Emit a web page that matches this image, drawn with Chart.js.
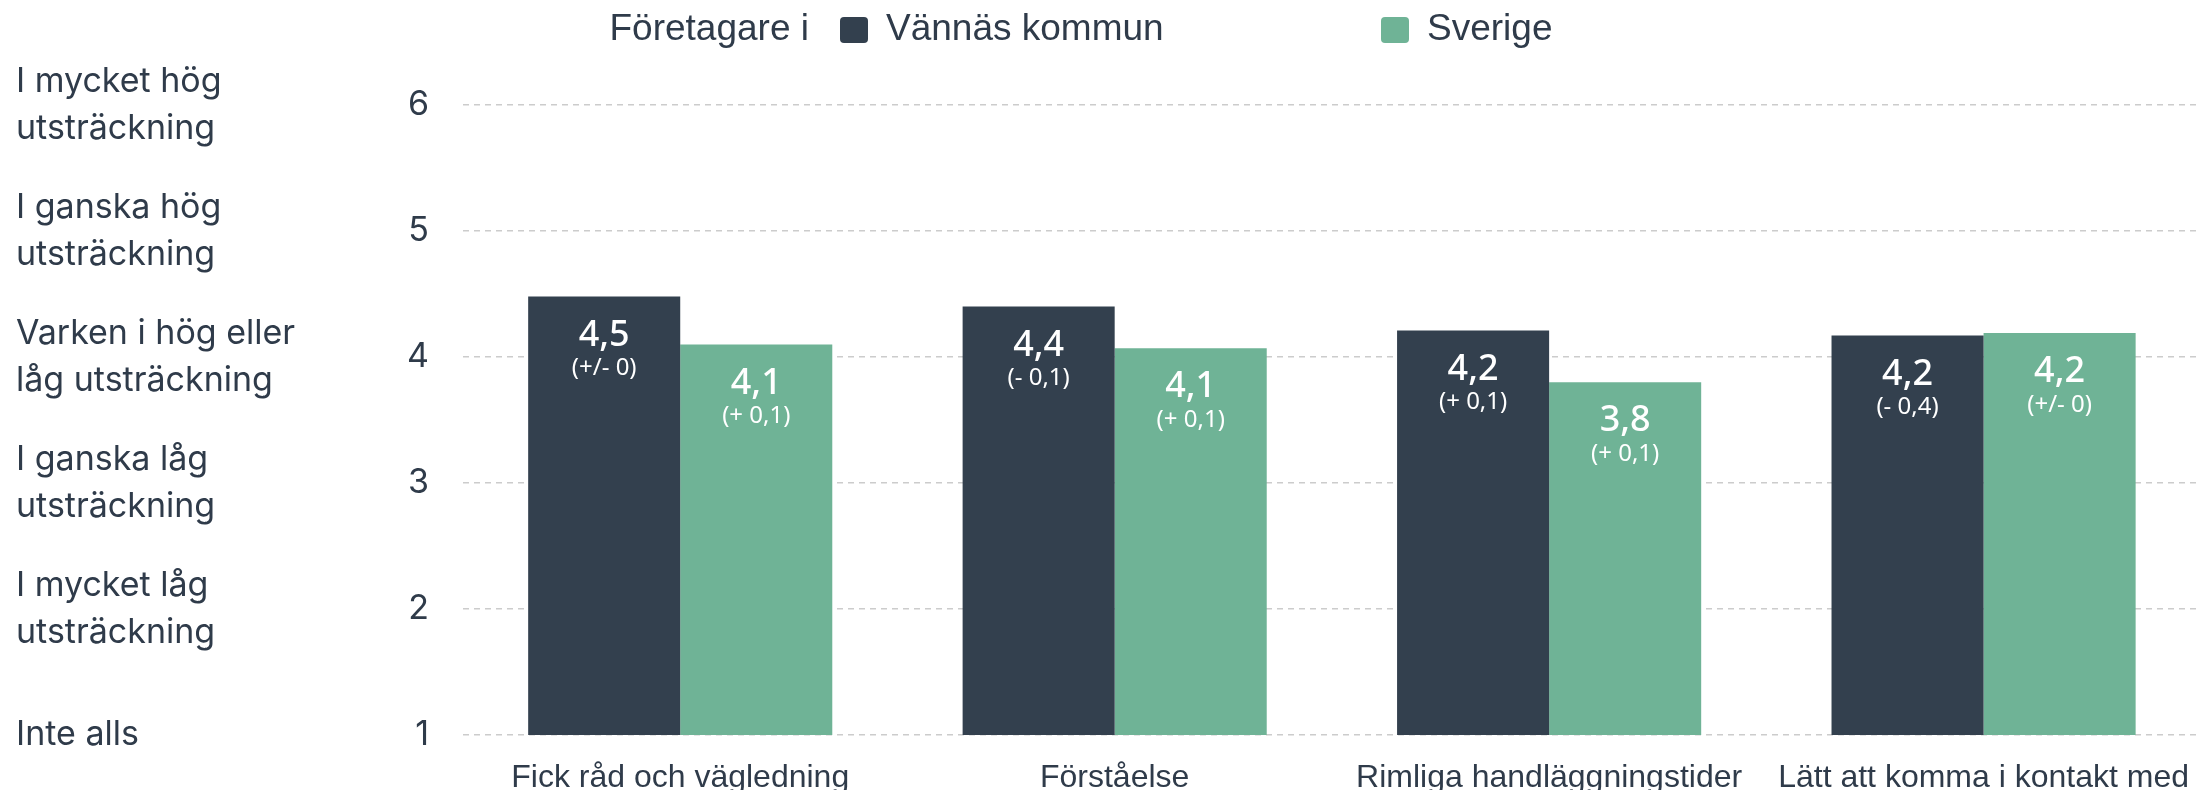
<!DOCTYPE html>
<html>
<head>
<meta charset="utf-8">
<script src="https://cdn.jsdelivr.net/npm/chart.js@4"></script>
<style>
html, body { margin: 0; padding: 0; overflow: hidden; background: #fff; }
</style>
</head>
<body>
<canvas id="chart" width="2205" height="790" style="display:block;width:2205px;height:790px"></canvas>
<script>
// data
const categories = ['Fick råd och vägledning', 'Förståelse', 'Rimliga handläggningstider', 'Lätt att komma i kontakt med'];
const seriesNames = ['Vännäs kommun', 'Sverige'];
const kommunValues = [4.48, 4.40, 4.21, 4.17];
const sverigeValues = [4.10, 4.07, 3.80, 4.19];
const kommunLabels = ['4,5', '4,4', '4,2', '4,2'];
const sverigeLabels = ['4,1', '4,1', '3,8', '4,2'];
const kommunChanges = ['(+/- 0)', '(- 0,1)', '(+ 0,1)', '(- 0,4)'];
const sverigeChanges = ['(+ 0,1)', '(+ 0,1)', '(+ 0,1)', '(+/- 0)'];
const legendTitle = 'Företagare i';
const scaleLabels = [
    ['Inte alls'],
    ['I mycket låg', 'utsträckning'],
    ['I ganska låg', 'utsträckning'],
    ['Varken i hög eller', 'låg utsträckning'],
    ['I ganska hög', 'utsträckning'],
    ['I mycket hög', 'utsträckning']
];

const textColor = '#2f3b4a';
const darkColor = '#33404e';
const greenColor = '#6fb396';

// white value + change labels inside the top of each bar
const barLabels = {
    id: 'barLabels',
    afterDatasetsDraw(chart) {
        const ctx = chart.ctx;
        const values = [kommunLabels, sverigeLabels];
        const changes = [kommunChanges, sverigeChanges];
        ctx.save();
        ctx.fillStyle = '#ffffff';
        ctx.textAlign = 'center';
        ctx.textBaseline = 'middle';
        chart.data.datasets.forEach(function (ds, i) {
            chart.getDatasetMeta(i).data.forEach(function (bar, j) {
                ctx.font = '500 36px "Noto Sans"';
                ctx.fillText(values[i][j], bar.x, bar.y + 39);
                ctx.font = '24px "Noto Sans"';
                ctx.fillText(changes[i][j], bar.x, bar.y + 72);
            });
        });
        ctx.restore();
    }
};

// legend row: "Företagare i" + two boxes
const topLegend = {
    id: 'topLegend',
    afterDraw(chart) {
        const ctx = chart.ctx;
        ctx.save();
        ctx.font = '37px "Liberation Sans"';
        ctx.textBaseline = 'middle';
        ctx.fillStyle = textColor;
        ctx.textAlign = 'right';
        ctx.fillText(legendTitle, 809, 30);
        ctx.textAlign = 'left';
        const items = [
            { x: 840, color: darkColor, text: seriesNames[0] },
            { x: 1381, color: greenColor, text: seriesNames[1] }
        ];
        items.forEach(function (it) {
            ctx.fillStyle = it.color;
            ctx.beginPath();
            ctx.roundRect(it.x, 17, 28, 26, 4);
            ctx.fill();
            ctx.fillStyle = textColor;
            ctx.fillText(it.text, it.x + 46, 30);
        });
        ctx.restore();
    }
};

new Chart(document.getElementById('chart'), {
    type: 'bar',
    data: {
        labels: categories,
        datasets: [
            { label: seriesNames[0], data: kommunValues, backgroundColor: darkColor },
            { label: seriesNames[1], data: sverigeValues, backgroundColor: greenColor }
        ]
    },
    options: {
        responsive: false,
        animation: false,
        categoryPercentage: 0.7,
        barPercentage: 1.0,
        layout: { padding: { top: 105, left: 16, right: 0, bottom: 0 } },
        plugins: {
            legend: { display: false },
            tooltip: { enabled: false }
        },
        scales: {
            x: {
                grid: { display: false },
                border: { display: false },
                ticks: {
                    color: textColor,
                    font: { family: 'Liberation Sans', size: 32 },
                    padding: 16,
                    maxRotation: 0,
                    autoSkip: false
                },
                afterFit: function (s) { s.height = 55; }
            },
            y: {
                position: 'left',
                min: 1,
                max: 6,
                ticks: {
                    stepSize: 1,
                    padding: 34,
                    color: textColor,
                    font: { family: 'Inter', size: 34 }
                },
                grid: { color: '#cccccc', lineWidth: 1.5, drawTicks: false },
                border: { display: false, dash: [6, 5] },
                afterFit: function (s) { s.width = 93; }
            },
            yText: {
                position: 'left',
                weight: 1,
                min: 1,
                max: 6,
                ticks: {
                    stepSize: 1,
                    crossAlign: 'far',
                    color: textColor,
                    font: { family: 'Inter', size: 34, lineHeight: 1.38 },
                    callback: function (v) { return scaleLabels[v - 1]; }
                },
                grid: { display: false },
                border: { display: false },
                afterFit: function (s) { s.width = 354; }
            }
        }
    },
    plugins: [barLabels, topLegend]
});
</script>
</body>
</html>
